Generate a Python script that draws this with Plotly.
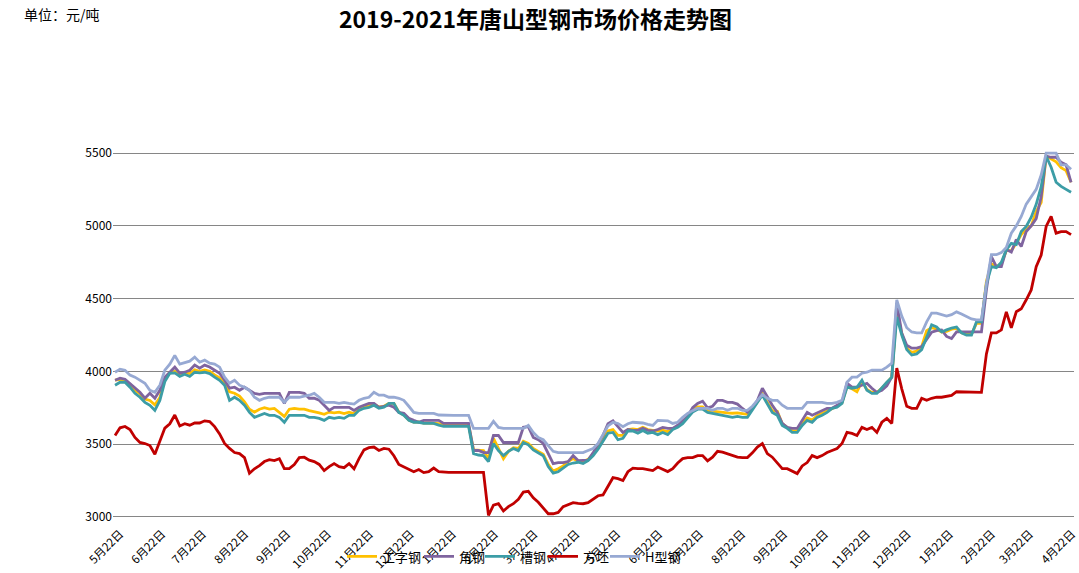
import pandas as pd
import plotly.graph_objects as go

# sample dates (regular grid, ~3.7 days apart)
dates = pd.date_range("2019-05-18 08:00", periods=193, freq=pd.Timedelta(hours=88))

tick_dates = ["2019-05-22", "2019-06-22", "2019-07-22", "2019-08-22", "2019-09-22", "2019-10-22",
              "2019-11-22", "2019-12-22", "2020-01-22", "2020-02-22", "2020-03-22", "2020-04-22",
              "2020-05-22", "2020-06-22", "2020-07-22", "2020-08-22", "2020-09-22", "2020-10-22",
              "2020-11-22", "2020-12-22", "2021-01-22", "2021-02-22", "2021-03-22", "2021-04-22"]
tick_labels = ["5月22日", "6月22日", "7月22日", "8月22日", "9月22日", "10月22日",
               "11月22日", "12月22日", "1月22日", "2月22日", "3月22日", "4月22日",
               "5月22日", "6月22日", "7月22日", "8月22日", "9月22日", "10月22日",
               "11月22日", "12月22日", "1月22日", "2月22日", "3月22日", "4月22日"]

gongzi = [3940, 3945, 3940, 3910, 3870, 3845, 3810, 3800, 3770, 3820,
          3950, 3990, 4000, 3975, 3990, 3985, 4010, 4000, 4010, 4000,
          3975, 3955, 3920, 3860, 3850, 3830, 3790, 3740, 3720, 3740,
          3750, 3740, 3745, 3720, 3690, 3740, 3745, 3740, 3740, 3730,
          3725, 3715, 3705, 3720, 3715, 3720, 3710, 3720,
          3710, 3740, 3755, 3765, 3775, 3755, 3760, 3780, 3780, 3720,
          3700, 3665, 3652, 3652, 3645, 3645, 3645, 3640, 3632, 3632,
          3632, 3632, 3632, 3632, 3460, 3460, 3455, 3400, 3540, 3470,
          3400, 3450, 3475, 3470, 3520, 3505, 3470, 3450, 3430, 3360,
          3315, 3330, 3350, 3380, 3400, 3385, 3380, 3395,
          3430, 3475, 3530, 3590, 3600, 3560, 3560, 3600, 3605, 3600,
          3615, 3600, 3595, 3590, 3595, 3585, 3605, 3620, 3650, 3690,
          3735, 3755, 3755, 3730, 3725, 3725, 3720, 3715, 3712, 3715,
          3710, 3705, 3745, 3790, 3845, 3790, 3730, 3725, 3640, 3615,
          3590, 3590, 3640, 3680, 3665, 3695, 3710, 3725,
          3745, 3760, 3785, 3895, 3880, 3860, 3930, 3875, 3855, 3855,
          3885, 3920, 3960, 4420, 4260, 4160, 4130, 4140, 4170, 4280,
          4300, 4290, 4270, 4275, 4290, 4295, 4265, 4255, 4255, 4330,
          4330, 4620, 4740, 4720, 4740, 4830, 4830, 4880, 4940, 4980,
          5000, 5100, 5160, 5480, 5460, 5440, 5400, 5380, 5300]

jiao = [3939, 3953, 3946, 3918, 3884, 3856, 3815, 3849, 3815, 3870,
        3960, 3994, 4029, 3987, 3994, 4008, 4043, 4022, 4043, 4030,
        4008, 3987, 3939, 3884, 3891, 3870, 3891, 3870, 3849, 3842,
        3849, 3849, 3849, 3849, 3780, 3856, 3856, 3856, 3849, 3815,
        3815, 3801, 3767, 3732, 3753, 3753, 3753, 3753,
        3732, 3753, 3767, 3780, 3780, 3753, 3760, 3767, 3753, 3718,
        3711, 3677, 3663, 3650, 3663, 3663, 3663, 3663, 3642, 3642,
        3642, 3642, 3642, 3642, 3456, 3456, 3442, 3442, 3559, 3559,
        3511, 3511, 3511, 3511, 3615, 3620, 3546, 3530, 3504, 3430,
        3366, 3373, 3373, 3380, 3421, 3387, 3387, 3390,
        3440, 3500, 3560, 3640, 3660, 3620, 3580, 3600, 3594, 3594,
        3608, 3594, 3590, 3600, 3615, 3608, 3608, 3630, 3660, 3690,
        3750, 3780, 3795, 3750, 3760, 3800, 3800, 3787, 3787, 3775,
        3745, 3720, 3750, 3800, 3884, 3822, 3767, 3718, 3642, 3615,
        3608, 3608, 3663, 3718, 3698, 3715, 3732, 3746,
        3746, 3767, 3787, 3918, 3891, 3891, 3905, 3918, 3884, 3856,
        3870, 3900, 3960, 4471, 4264, 4180, 4160, 4160, 4170, 4220,
        4270, 4280, 4285, 4240, 4225, 4271, 4271, 4271, 4271, 4271,
        4271, 4560, 4789, 4720, 4720, 4837, 4820, 4906, 4858, 4961,
        5000, 5050, 5200, 5479, 5472, 5472, 5438, 5420, 5300]

cao = [3905, 3925, 3925, 3891, 3849, 3822, 3787, 3767, 3732, 3800,
       3930, 3987, 3990, 3965, 3980, 3965, 3994, 3990, 3994, 3985,
       3960, 3939, 3905, 3800, 3822, 3801, 3767, 3718, 3684, 3698,
       3711, 3698, 3698, 3684, 3650, 3698, 3698, 3698, 3698, 3684,
       3684, 3677, 3663, 3684, 3677, 3684, 3677, 3698,
       3698, 3732, 3746, 3753, 3767, 3746, 3753, 3780, 3780, 3718,
       3698, 3663, 3650, 3650, 3642, 3642, 3642, 3630, 3622, 3622,
       3622, 3622, 3622, 3622, 3435, 3425, 3421, 3380, 3504, 3456,
       3421, 3450, 3470, 3455, 3511, 3495, 3460, 3440, 3420, 3345,
       3300, 3310, 3335, 3360, 3370, 3375, 3366, 3387,
       3420, 3465, 3520, 3575, 3580, 3530, 3540, 3590, 3590, 3575,
       3594, 3575, 3580, 3565, 3580, 3565, 3600, 3615, 3640, 3680,
       3720, 3740, 3740, 3718, 3711, 3705, 3698, 3690, 3684, 3690,
       3684, 3684, 3740, 3787, 3836, 3780, 3718, 3698, 3628, 3608,
       3580, 3580, 3628, 3663, 3650, 3684, 3698, 3718,
       3746, 3753, 3780, 3891, 3884, 3891, 3939, 3870, 3849, 3849,
       3891, 3925, 3960, 4374, 4250, 4150, 4112, 4120, 4150, 4236,
       4320, 4305, 4271, 4285, 4298, 4305, 4264, 4250, 4250, 4340,
       4340, 4600, 4720, 4713, 4750, 4837, 4880, 4872, 4961, 4996,
       5060, 5148, 5270, 5479, 5403, 5300, 5272, 5251, 5231]

fangpi = [3559, 3612, 3621, 3600, 3546, 3511, 3504, 3490, 3430, 3520,
          3610, 3640, 3700, 3625, 3640, 3630, 3645, 3645, 3660, 3655,
          3620, 3570, 3504, 3470, 3442, 3435, 3407, 3300, 3330, 3352,
          3380, 3393, 3387, 3400, 3331, 3331, 3360, 3407, 3410, 3390,
          3380, 3360, 3318, 3345, 3366, 3345, 3338, 3366,
          3330, 3400, 3460, 3475, 3480, 3456, 3470, 3465, 3420, 3360,
          3345, 3330, 3310, 3325, 3304, 3310, 3335, 3310, 3305, 3305,
          3305, 3305, 3305, 3305, 3305, 3305, 3305, 3010, 3080, 3090,
          3040, 3070, 3090, 3120, 3170, 3175, 3130, 3100, 3062, 3021,
          3021, 3030, 3070, 3085, 3097, 3092, 3090, 3097,
          3124, 3145, 3150, 3215, 3269, 3262, 3249, 3310, 3335, 3331,
          3331, 3325, 3318, 3342, 3324, 3311, 3331, 3370, 3400, 3407,
          3407, 3421, 3421, 3385, 3410, 3450, 3445, 3435, 3425, 3410,
          3407, 3407, 3440, 3480, 3504, 3435, 3410, 3370, 3331, 3331,
          3315, 3297, 3350, 3373, 3421, 3407, 3421, 3442,
          3456, 3470, 3504, 3580, 3573, 3559, 3615, 3600, 3615, 3580,
          3650, 3677, 3642, 4022, 3880, 3760, 3746, 3746, 3815, 3801,
          3815, 3822, 3822, 3829, 3835, 3860, 3860, 3856, 3856, 3856,
          3856, 4120, 4264, 4264, 4285, 4409, 4300, 4410, 4430, 4492,
          4560, 4720, 4800, 4996, 5065, 4950, 4961, 4961, 4940]

hxing = [3994, 4015, 4008, 3974, 3960, 3939, 3918, 3870, 3856, 3905,
         4008, 4050, 4110, 4050, 4060, 4070, 4098, 4063, 4077, 4056,
         4050, 4029, 3960, 3918, 3939, 3905, 3891, 3870, 3822, 3801,
         3815, 3822, 3822, 3822, 3787, 3822, 3822, 3822, 3829, 3836,
         3849, 3822, 3787, 3787, 3787, 3780, 3787, 3780,
         3775, 3801, 3815, 3822, 3856, 3836, 3836, 3822, 3822, 3815,
         3801, 3760, 3718, 3711, 3711, 3711, 3711, 3700, 3698, 3698,
         3698, 3698, 3698, 3698, 3608, 3608, 3608, 3608, 3656, 3615,
         3608, 3608, 3608, 3608, 3608, 3628, 3580, 3546, 3530, 3490,
         3450, 3442, 3442, 3442, 3442, 3442, 3442, 3456,
         3470, 3504, 3560, 3625, 3650, 3642, 3620, 3640, 3650, 3650,
         3645, 3635, 3628, 3663, 3663, 3660, 3642, 3650, 3684, 3711,
         3730, 3746, 3746, 3746, 3732, 3746, 3746, 3732, 3746, 3746,
         3732, 3732, 3760, 3800, 3840, 3815, 3801, 3801, 3767, 3746,
         3746, 3746, 3746, 3787, 3787, 3787, 3787, 3780,
         3780, 3787, 3801, 3925, 3960, 3960, 3987, 3994, 4008, 4008,
         4008, 4029, 4056, 4492, 4380, 4300, 4271, 4264, 4264, 4340,
         4400, 4400, 4388, 4380, 4390, 4409, 4395, 4380, 4360, 4354,
         4354, 4600, 4802, 4802, 4816, 4851, 4950, 5000, 5065, 5150,
         5200, 5251, 5350, 5500, 5500, 5500, 5420, 5420, 5390]

y_ticks = [3000, 3500, 4000, 4500, 5000, 5500]

series = [
    ("工字钢", gongzi, "#FFC000"),
    ("角钢", jiao, "#7F649F"),
    ("槽钢", cao, "#3C9DA6"),
    ("方坯", fangpi, "#C00000"),
    ("H型钢", hxing, "#97A9D3"),
]

# plot area geometry (pixels)
W, H = 1079, 573
L, R, T, B = 113, 5, 151, 54
pw, ph = W - L - R, H - T - B

def px_x(x):
    return (x - L) / pw

def px_y(y):
    return (H - B - y) / ph

FONT = "Noto Sans CJK SC"
legend_left = [342, 419, 480, 543, 605]

fig = go.Figure()
legend_cfg = {}
for k, (name, vals, color) in enumerate(series):
    lname = "legend" if k == 0 else f"legend{k + 1}"
    fig.add_trace(go.Scatter(x=dates, y=vals, name=name, mode="lines",
                             line=dict(color=color, width=2.8), legend=lname))
    legend_cfg[lname] = dict(orientation="h", x=px_x(legend_left[k]), xanchor="left",
                             y=px_y(556.5), yanchor="middle", bgcolor="rgba(0,0,0,0)",
                             font=dict(size=13, family=FONT, color="black"),
                             itemwidth=30, borderwidth=0)

fig.update_layout(
    width=W, height=H,
    paper_bgcolor="white", plot_bgcolor="white",
    margin=dict(l=L, r=R, t=T, b=B, autoexpand=False),
    font=dict(family=FONT, color="black"),
    title=dict(text="<b>2019-2021年唐山型钢市场价格走势图</b>",
               x=535.5 / W, xref="container", xanchor="center",
               y=1 - 20 / H, yref="container", yanchor="middle",
               font=dict(size=23, family=FONT, color="black")),
    showlegend=True,
    annotations=[dict(text="单位：元/吨", x=px_x(22), y=px_y(14),
                      xref="paper", yref="paper", xanchor="left", yanchor="middle",
                      showarrow=False, font=dict(size=14, family=FONT, color="black"))],
    **legend_cfg,
)
fig.update_xaxes(type="date", range=["2019-05-16 20:00", "2021-04-23 12:00"],
                 tickvals=tick_dates, ticktext=tick_labels, tickangle=-45,
                 showgrid=False, zeroline=False, showline=False, ticks="",
                 ticklabelstandoff=5, automargin=False,
                 tickfont=dict(size=11.5, family=FONT, color="black"))
fig.update_yaxes(range=[2985, 5515], tickvals=y_ticks, ticktext=[str(v) for v in y_ticks],
                 showgrid=True, gridcolor="#868686", gridwidth=1, zeroline=False,
                 showline=False, ticks="", automargin=False,
                 tickfont=dict(size=12, family=FONT, color="black"))

fig.write_html("out.html")
